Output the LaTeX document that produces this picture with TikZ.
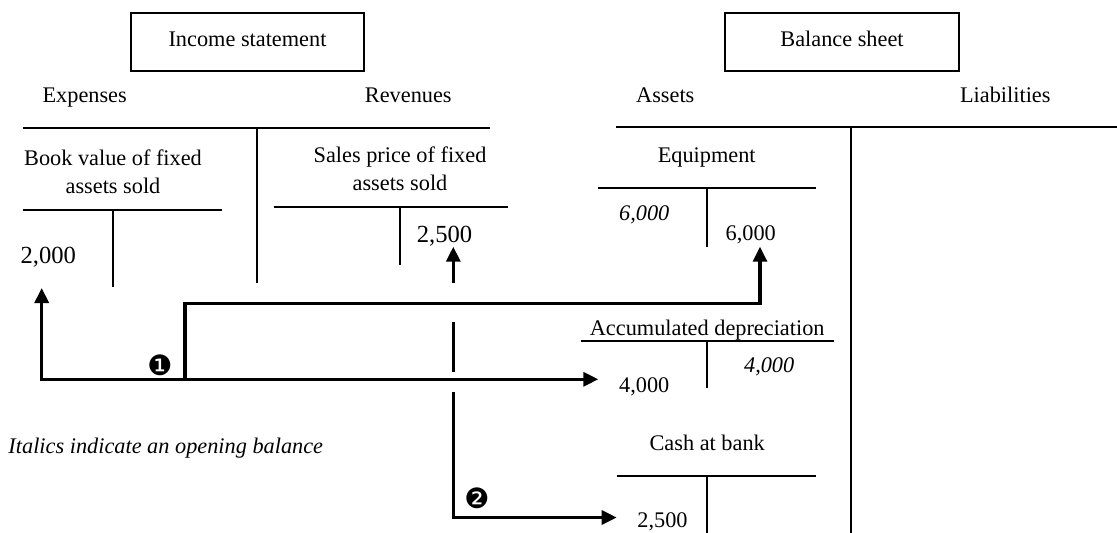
\documentclass[tikz,border=0pt]{standalone}
\usepackage{fontspec}
\setmainfont{Liberation Serif}
\newfontfamily\dingfont{DejaVu Sans}
\usetikzlibrary{arrows.meta}

\tikzset{
  txt/.style={font=\fontsize{22.3}{26.5}\selectfont, inner sep=0pt, anchor=base},
  bigtxt/.style={font=\fontsize{24.6}{29}\selectfont, inner sep=0pt, anchor=base},
  ital/.style={txt, font=\fontsize{22.3}{26.5}\selectfont\itshape},
  stepmark/.style={font=\dingfont\fontsize{28}{30}\selectfont, inner sep=0pt},
  rule/.style={line width=1.8pt},
  titlebox/.style={draw, line width=1.8pt, inner sep=0pt},
  flow/.style={line width=3.2pt, line join=miter},
  tip/.style={-{Triangle[length=15pt,width=14pt]}},
}

\begin{document}
\begin{tikzpicture}[x=1pt,y=-1pt]
\useasboundingbox (0,0) rectangle (1117,533);

% statement headers
\draw[titlebox] (130.7,13.3) rectangle (364.3,70.7);
\node[txt] (inc) at (247.5,46) {Income statement};
\draw[titlebox] (724.7,13.3) rectangle (959.3,70.7);
\node[txt] (bal) at (842,46) {Balance sheet};

\node[txt] (exp) at (84.7,102.7) {Expenses};
\node[txt] (rev) at (408.3,102.7) {Revenues};
\node[txt] (ast) at (665.3,102.7) {Assets};
\node[txt] (lia) at (1005.3,102.7) {Liabilities};

% income statement T
\draw[rule] (22.7,128.3) -- (490,128.3);
\draw[rule] (256.7,128.3) -- (256.7,282.7);

% balance sheet T
\draw[rule] (616,126.7) -- (1117,126.7);
\draw[rule] (851,126.7) -- (851,533);

% book value of fixed assets sold
\node[txt] (bv1) at (113,165.7) {Book value of fixed};
\node[txt] (bv2) at (113,193.3) {assets sold};
\draw[rule] (22.7,210) -- (221.7,210);
\draw[rule] (113.3,210) -- (113.3,287);
\node[bigtxt] (n2000) at (48.3,263.3) {2,000};

% sales price of fixed assets sold
\node[txt] (sp1) at (400,162.7) {Sales price of fixed};
\node[txt] (sp2) at (400,190.7) {assets sold};
\draw[rule] (274,207.3) -- (508.3,207.3);
\draw[rule] (400,207.3) -- (400,265);
\node[bigtxt] (n2500r) at (444.5,242.7) {2,500};

% equipment
\node[txt] (eq) at (706.7,162.7) {Equipment};
\draw[rule] (598.3,188.3) -- (816,188.3);
\draw[rule] (707,188.3) -- (707,246.7);
\node[ital] (eqo) at (644.3,220) {6,000};
\node[txt] (eqc) at (750.8,240) {6,000};

% accumulated depreciation
\node[txt] (ad) at (707.2,335.3) {Accumulated depreciation};
\draw[rule] (580.7,341.3) -- (834,341.3);
\draw[rule] (707,340) -- (707,388.3);
\node[ital] (ado) at (769.2,372.3) {4,000};
\node[txt] (add) at (644.3,392.3) {4,000};

% cash at bank
\node[txt] (cb) at (707.2,450.7) {Cash at bank};
\draw[rule] (616.7,476) -- (816,476);
\draw[rule] (707,476) -- (707,533);
\node[txt] (cbd) at (662.5,527.3) {2,500};

\node[ital] (note) at (165.8,453.3) {Italics indicate an opening balance};

% transaction 1: disposal at book value
\coordinate (t2000) at (41.7,288);
\coordinate (t4000) at (598.3,379.3);
\coordinate (b1) at (185,379.3);
\coordinate (b2) at (185,303.3);
\coordinate (t6000) at (760,246.7);
\draw[flow, {Triangle[length=15pt,width=14pt]}-{Triangle[length=15pt,width=14pt]}] (t2000) |- (t4000);
\draw[flow, tip] (b1) -- (b2) -| (t6000);
\node[stepmark] (m1) at (160,365) {❶};

% transaction 2: cash received
\coordinate (s1) at (453.3,283);
\coordinate (t2500r) at (453.3,246.7);
\coordinate (s2a) at (453.3,321.7);
\coordinate (s2b) at (453.3,371.7);
\coordinate (s3) at (453.3,391.7);
\coordinate (t2500c) at (616.7,517.5);
\draw[flow, tip] (s1) -- (t2500r);
\draw[flow] (s2a) -- (s2b);
\draw[flow, tip] (s3) |- (t2500c);
\node[stepmark] (m2) at (477,498.3) {❷};
\end{tikzpicture}
\end{document}
